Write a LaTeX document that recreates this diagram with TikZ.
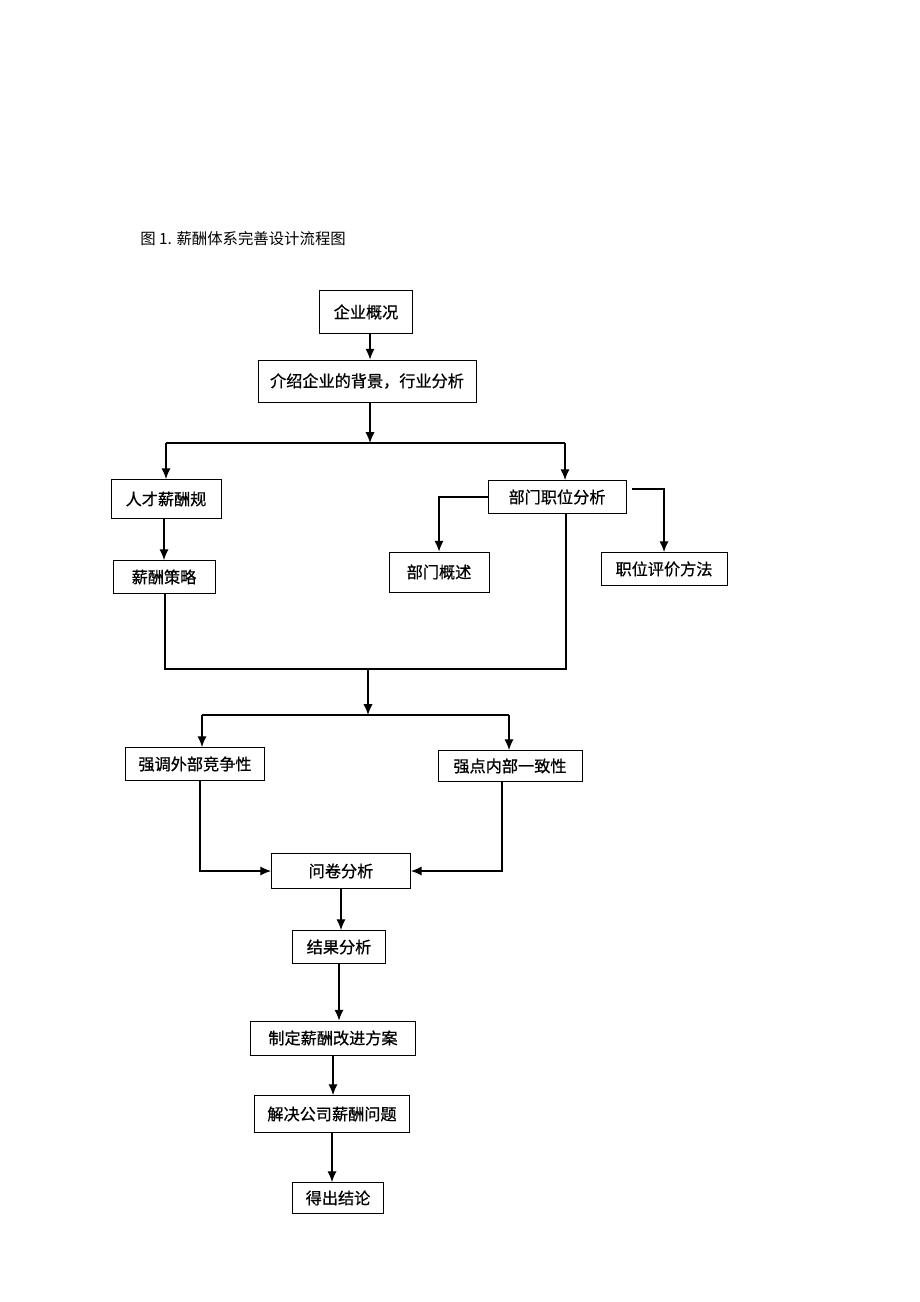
\documentclass[tikz,border=0pt]{standalone}
\usepackage{fontspec}
\setmainfont{Noto Sans CJK SC}
\newfontfamily\boxfont{Noto Sans CJK SC}[FakeBold=0.7]
\usetikzlibrary{positioning,arrows.meta}
\tikzset{
    box/.style 2 args={draw, line width=.6pt, minimum width=#1*0.65pt, minimum height=#2*0.65pt, inner sep=0pt, font=\boxfont\fontsize{10.5}{12}\selectfont},
    flow/.style={-{Latex[length=7pt,width=6pt]}, line width=.8pt},
    link/.style={line width=.8pt},
}

\begin{document}
\begin{tikzpicture}[x=0.65pt,y=-0.65pt]
            \useasboundingbox (0,0) rectangle (920,1302);
            \node[anchor=base west, inner sep=0pt, font=\fontsize{10}{12}\selectfont] (title) at (140,244) {图 1. 薪酬体系完善设计流程图};
            % boxes
            \node[box={93}{43}] (gaikuang) at (366,312) {企业概况};
            \node[box={218}{42}] (jieshao) at (367,381) {介绍企业的背景，行业分析};
            \node[box={110}{39}] (rencai) at (166,499) {人才薪酬规};
            \node[box={138}{33}] (bumen) at (557,497) {部门职位分析};
            \node[box={102}{33}] (celue) at (164,577) {薪酬策略};
            \node[box={100}{40}] (gaishu) at (439,572) {部门概述};
            \node[box={126}{33}] (pingjia) at (664,569) {职位评价方法};
            \node[box={139}{33}] (waibu) at (195,764) {强调外部竞争性};
            \node[box={144}{31}] (neibu) at (510,766) {强点内部一致性};
            \node[box={139}{35}] (wenjuan) at (341,871) {问卷分析};
            \node[box={93}{33}] (jieguo) at (339,947) {结果分析};
            \node[box={165}{34}] (fangan) at (333,1038) {制定薪酬改进方案};
            \node[box={155}{37}] (wenti) at (332,1114) {解决公司薪酬问题};
            \node[box={91}{31}] (jielun) at (338,1198) {得出结论};
            % junctions
            \coordinate (fen) at (370,443);
            \coordinate (fenL) at (166,443);
            \coordinate (fenR) at (565,443);
            \coordinate (pjStart) at (632,489);
            \coordinate (he) at (368,669);
            \coordinate (heL) at (165,669);
            \coordinate (heR) at (566,669);
            \coordinate (fen2) at (368,715);
            \coordinate (fen2L) at (202,715);
            \coordinate (fen2R) at (509,715);
            % connectors
            \draw[flow] (gaikuang.south -| fen) -- (jieshao.north -| fen);
            \draw[flow] (jieshao.south -| fen) -- (fen);
            \draw[link] (fenL) -- (fenR);
            \draw[flow] (fenL) -- (rencai.north -| fenL);
            \draw[flow] (fenR) -- (bumen.north -| fenR);
            \draw[flow] (rencai.south -| celue.north) -- (celue.north);
            \draw[flow] (bumen.west) -| (gaishu.north);
            \draw[flow] (pjStart) -| (pingjia.north);
            \draw[link] (bumen.south -| heR) -- (heR) -- (heL) -- (celue.south -| heL);
            \draw[flow] (he) -- (fen2);
            \draw[link] (fen2L) -- (fen2R);
            \draw[flow] (fen2L) -- (waibu.north -| fen2L);
            \draw[flow] (fen2R) -- (neibu.north -| fen2R);
            \draw[flow] (waibu.south -| 200,0) |- (wenjuan.west);
            \draw[flow] (neibu.south -| 502,0) |- (wenjuan.east);
            \foreach \a/\b in {wenjuan/jieguo, jieguo/fangan, fangan/wenti, wenti/jielun}
                \draw[flow] (\a.south) -- (\a.south |- \b.north);
        \end{tikzpicture}
\end{document}
